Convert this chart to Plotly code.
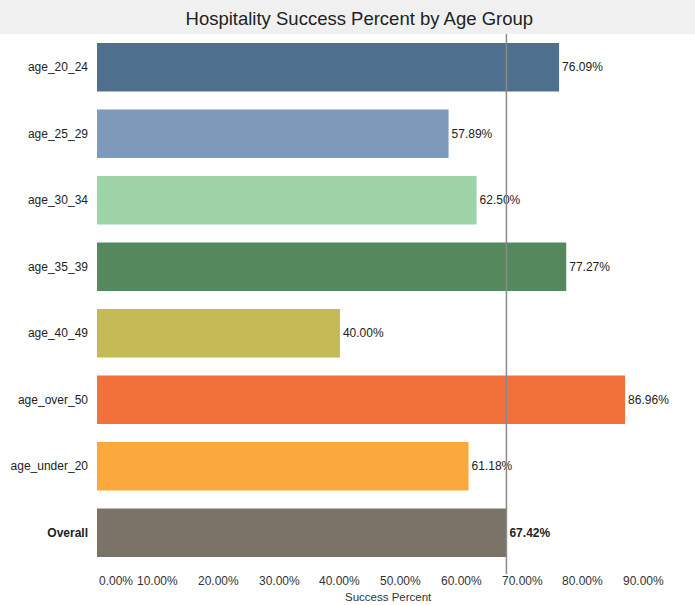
import plotly.graph_objects as go

# Success rate per age group, plus the overall rate
categories = ["age_20_24", "age_25_29", "age_30_34", "age_35_39",
              "age_40_49", "age_over_50", "age_under_20", "Overall"]
success_pct = [76.09, 57.89, 62.50, 77.27, 40.00, 86.96, 61.18, 67.42]
bar_colors = ["#4e6f8e", "#7e9aba", "#9dd3a6", "#55895d",
              "#c3ba55", "#f2713a", "#fba83c", "#7b7268"]
tick_values = [0, 10, 20, 30, 40, 50, 60, 70, 80, 90]
tick_labels = [f"{v:.2f}%" for v in tick_values]

FONT = "Liberation Sans, Arial, sans-serif"
overall_value = success_pct[categories.index("Overall")]

label_text = [f"<b>{v:.2f}%</b>" if c == "Overall" else f"{v:.2f}%"
              for c, v in zip(categories, success_pct)]
cat_labels = [f"<b>{c}</b>" if c == "Overall" else c for c in categories]

fig = go.Figure()
fig.add_trace(go.Bar(
    x=success_pct,
    y=categories,
    orientation="h",
    marker=dict(color=bar_colors, line=dict(width=0)),
    text=label_text,
    textposition="outside",
    cliponaxis=False,
    textfont=dict(size=12, color="#222222", family=FONT),
    width=0.73,
    hovertemplate="%{y}: %{x:.2f}%<extra></extra>",
))

# Reference line at the overall rate
fig.add_shape(type="line", xref="x", yref="paper",
              x0=overall_value, x1=overall_value, y0=-0.015, y1=1.0,
              line=dict(color="#8a8a8a", width=1.5))

# Light band behind the title
fig.add_shape(type="rect", xref="paper", yref="paper",
              x0=-0.17, x1=1.03, y0=1.0, y1=1.07,
              fillcolor="#f0f0f0", line=dict(width=0), layer="below")

# X tick labels, with the first one aligned to the axis start
for v, t in zip(tick_values, tick_labels):
    fig.add_annotation(x=v, y=-0.012, xref="x", yref="paper", text=t,
                       showarrow=False, yanchor="top",
                       xanchor="left" if v == 0 else "center",
                       font=dict(size=12, color="#333333", family=FONT))

# X axis title
fig.add_annotation(x=0.5, y=-0.058, xref="paper", yref="paper",
                   text="Success Percent", showarrow=False,
                   xanchor="center", yanchor="middle",
                   font=dict(size=11.5, color="#333333", family=FONT))

fig.update_layout(
    width=695, height=605,
    margin=dict(l=97, r=15, t=34, b=39),
    paper_bgcolor="white",
    plot_bgcolor="white",
    showlegend=False,
    bargap=0.27,
    title=dict(text="Hospitality Success Percent by Age Group",
               x=0.517, xanchor="center", y=0.970, yanchor="middle",
               font=dict(size=18.5, color="#222222", family=FONT)),
    font=dict(family=FONT, size=12, color="#333333"),
)
fig.update_xaxes(range=[0, 96], tickvals=tick_values, showticklabels=False,
                 showgrid=False, zeroline=False, showline=False,
                 automargin=False)
fig.update_yaxes(categoryorder="array", categoryarray=categories,
                 autorange="reversed", tickvals=categories, ticktext=cat_labels,
                 showgrid=False, zeroline=False, showline=False,
                 ticks="", ticklabelstandoff=8, automargin=False,
                 tickfont=dict(size=12, color="#222222"))

fig.write_html("out.html")
